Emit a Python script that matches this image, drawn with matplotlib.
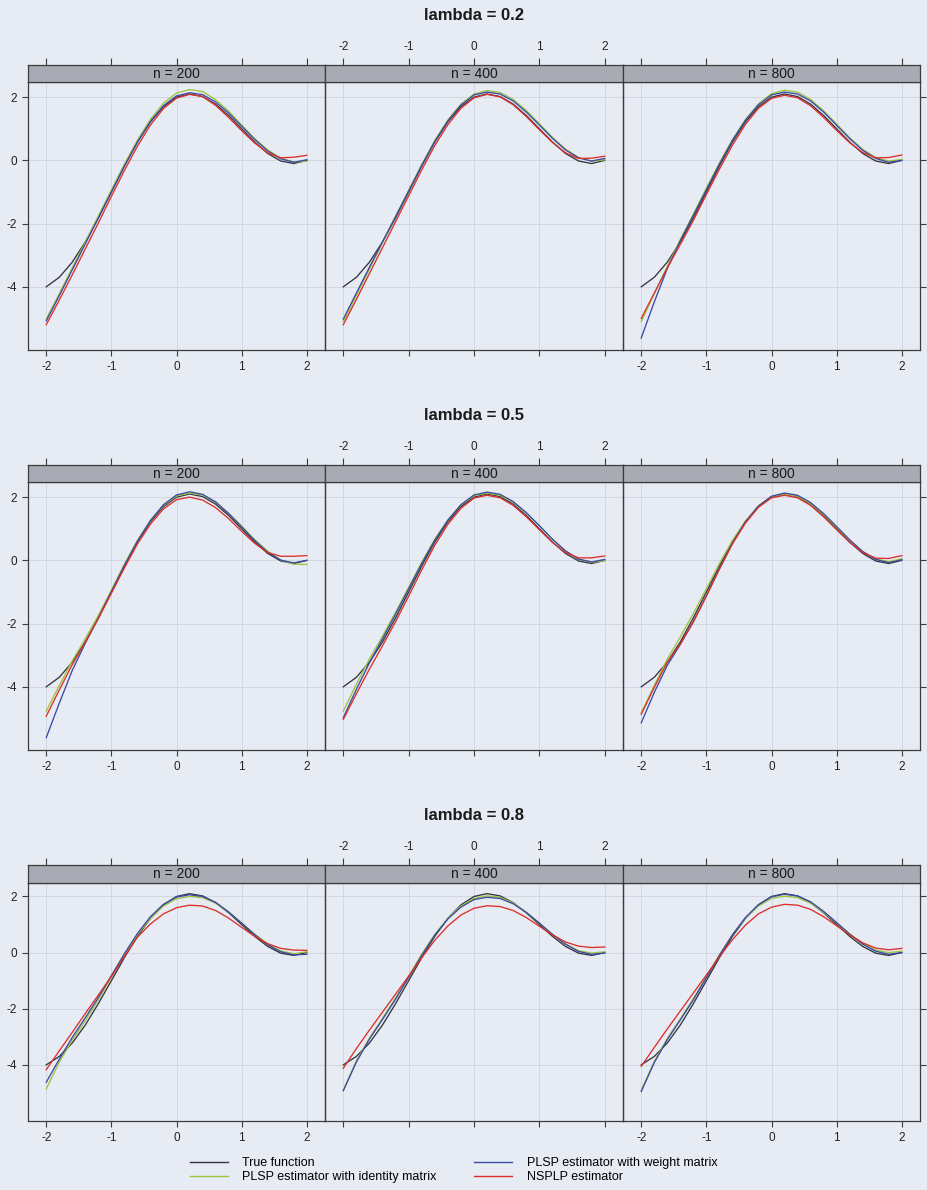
import matplotlib
matplotlib.use("Agg")
import matplotlib.pyplot as plt
from matplotlib.lines import Line2D

plt.rcParams['font.family'] = ['Liberation Sans', 'DejaVu Sans']
plt.rcParams['axes.unicode_minus'] = False

x_grid = [-2.0, -1.8, -1.6, -1.4, -1.2, -1.0, -0.8, -0.6, -0.4, -0.2, 0.0,
          0.2, 0.4, 0.6, 0.8, 1.0, 1.2, 1.4, 1.6, 1.8, 2.0]

true_curve = [-4.00, -3.70, -3.22, -2.58, -1.82, -1.00, -0.18, 0.58, 1.22, 1.70, 2.00,
              2.10, 2.02, 1.78, 1.42, 1.00, 0.58, 0.22, -0.02, -0.10, 0.00]

# lambda = 0.2
ident_02_200 = [-5.02, -4.22, -3.40, -2.58, -1.76, -0.94, -0.12, 0.64, 1.30, 1.81, 2.13,
                2.24, 2.18, 1.92, 1.56, 1.12, 0.69, 0.33, 0.07, -0.05, -0.03]
weight_02_200 = [-5.08, -4.28, -3.46, -2.64, -1.82, -1.00, -0.18, 0.58, 1.23, 1.73, 2.04,
                 2.14, 2.08, 1.85, 1.50, 1.08, 0.66, 0.30, 0.05, -0.06, 0.02]
nsplp_02_200 = [-5.20, -4.42, -3.62, -2.80, -1.98, -1.14, -0.32, 0.45, 1.12, 1.64, 1.97,
                2.09, 2.02, 1.74, 1.36, 0.94, 0.55, 0.24, 0.08, 0.10, 0.16]

ident_02_400 = [-5.10, -4.28, -3.44, -2.60, -1.77, -0.95, -0.13, 0.63, 1.28, 1.78, 2.10,
                2.21, 2.15, 1.93, 1.58, 1.16, 0.73, 0.36, 0.09, -0.03, 0.02]
weight_02_400 = [-5.02, -4.20, -3.38, -2.58, -1.78, -0.97, -0.16, 0.60, 1.25, 1.75, 2.07,
                 2.16, 2.10, 1.88, 1.53, 1.12, 0.70, 0.33, 0.08, -0.02, 0.06]
nsplp_02_400 = [-5.20, -4.40, -3.58, -2.76, -1.94, -1.12, -0.30, 0.47, 1.13, 1.65, 1.98,
                2.09, 2.01, 1.76, 1.39, 0.97, 0.57, 0.24, 0.06, 0.07, 0.13]

ident_02_800 = [-5.10, -4.22, -3.36, -2.50, -1.70, -0.88, -0.08, 0.66, 1.29, 1.79, 2.11,
                2.22, 2.16, 1.93, 1.57, 1.15, 0.72, 0.35, 0.09, -0.02, 0.03]
weight_02_800 = [-5.62, -4.48, -3.42, -2.54, -1.74, -0.93, -0.12, 0.63, 1.27, 1.76, 2.07,
                 2.16, 2.10, 1.88, 1.53, 1.11, 0.69, 0.32, 0.06, -0.06, 0.00]
nsplp_02_800 = [-5.00, -4.20, -3.40, -2.66, -1.90, -1.08, -0.28, 0.48, 1.14, 1.65, 1.96,
                2.06, 1.98, 1.73, 1.36, 0.95, 0.56, 0.25, 0.08, 0.09, 0.17]

# lambda = 0.5
ident_05_200 = [-4.77, -3.96, -3.18, -2.48, -1.74, -0.94, -0.12, 0.63, 1.26, 1.74, 2.04,
                2.13, 2.07, 1.85, 1.50, 1.09, 0.66, 0.29, 0.01, -0.12, -0.13]
weight_05_200 = [-5.61, -4.52, -3.48, -2.62, -1.82, -0.99, -0.16, 0.61, 1.26, 1.76, 2.07,
                 2.17, 2.09, 1.85, 1.48, 1.06, 0.63, 0.26, 0.01, -0.08, 0.00]
nsplp_05_200 = [-4.93, -4.10, -3.30, -2.58, -1.84, -1.04, -0.24, 0.52, 1.15, 1.63, 1.92,
                2.00, 1.91, 1.67, 1.32, 0.92, 0.54, 0.25, 0.13, 0.13, 0.15]

ident_05_400 = [-4.77, -3.92, -3.12, -2.40, -1.64, -0.85, -0.06, 0.67, 1.28, 1.76, 2.05,
                2.13, 2.06, 1.84, 1.50, 1.09, 0.67, 0.30, 0.04, -0.06, -0.01]
weight_05_400 = [-4.98, -4.08, -3.24, -2.48, -1.70, -0.90, -0.10, 0.64, 1.27, 1.76, 2.07,
                 2.16, 2.09, 1.86, 1.51, 1.10, 0.67, 0.30, 0.04, -0.05, 0.03]
nsplp_05_400 = [-5.03, -4.22, -3.44, -2.70, -1.94, -1.13, -0.30, 0.48, 1.14, 1.65, 1.97,
                2.06, 1.98, 1.74, 1.38, 0.97, 0.57, 0.25, 0.08, 0.08, 0.14]

ident_05_800 = [-4.82, -3.96, -3.12, -2.42, -1.68, -0.90, -0.10, 0.63, 1.25, 1.73, 2.02,
                2.10, 2.03, 1.80, 1.45, 1.04, 0.63, 0.28, 0.05, -0.04, 0.05]
weight_05_800 = [-5.14, -4.18, -3.32, -2.66, -1.94, -1.12, -0.26, 0.55, 1.22, 1.72, 2.03,
                 2.13, 2.06, 1.83, 1.48, 1.07, 0.65, 0.28, 0.03, -0.07, 0.02]
nsplp_05_800 = [-4.87, -4.02, -3.22, -2.64, -1.95, -1.13, -0.28, 0.52, 1.18, 1.68, 1.98,
                2.06, 1.98, 1.74, 1.38, 0.97, 0.57, 0.25, 0.07, 0.06, 0.15]

# lambda = 0.8
ident_08_200 = [-4.86, -3.90, -3.12, -2.42, -1.68, -0.88, -0.08, 0.64, 1.22, 1.66, 1.92,
                2.00, 1.96, 1.76, 1.44, 1.06, 0.66, 0.31, 0.06, -0.04, 0.03]
weight_08_200 = [-4.62, -3.80, -3.02, -2.32, -1.60, -0.82, -0.04, 0.68, 1.28, 1.72, 1.98,
                 2.06, 2.00, 1.79, 1.45, 1.05, 0.64, 0.28, 0.03, -0.08, -0.06]
nsplp_08_200 = [-4.17, -3.50, -2.84, -2.17, -1.51, -0.85, -0.14, 0.55, 1.02, 1.38, 1.60,
                1.69, 1.66, 1.50, 1.23, 0.90, 0.58, 0.32, 0.15, 0.09, 0.08]

ident_08_400 = [-4.90, -3.86, -3.04, -2.34, -1.62, -0.84, -0.06, 0.65, 1.23, 1.66, 1.93,
                2.02, 1.97, 1.77, 1.44, 1.05, 0.65, 0.31, 0.07, -0.02, 0.03]
weight_08_400 = [-4.92, -3.90, -3.08, -2.38, -1.66, -0.88, -0.10, 0.62, 1.20, 1.62, 1.89,
                 1.97, 1.93, 1.74, 1.43, 1.05, 0.65, 0.30, 0.04, -0.06, -0.02]
nsplp_08_400 = [-4.12, -3.42, -2.76, -2.12, -1.48, -0.84, -0.18, 0.44, 0.95, 1.34, 1.58,
                1.67, 1.64, 1.50, 1.25, 0.94, 0.63, 0.38, 0.23, 0.18, 0.20]

ident_08_800 = [-4.90, -3.88, -3.06, -2.36, -1.64, -0.86, -0.08, 0.64, 1.23, 1.66, 1.93,
                2.01, 1.96, 1.76, 1.44, 1.06, 0.67, 0.33, 0.09, 0.00, 0.05]
weight_08_800 = [-4.95, -3.92, -3.10, -2.40, -1.68, -0.89, -0.10, 0.63, 1.25, 1.71, 1.99,
                 2.08, 2.02, 1.81, 1.47, 1.07, 0.66, 0.30, 0.05, -0.06, 0.00]
nsplp_08_800 = [-4.05, -3.38, -2.72, -2.08, -1.44, -0.80, -0.15, 0.46, 0.98, 1.38, 1.62,
                1.72, 1.69, 1.54, 1.28, 0.96, 0.63, 0.35, 0.16, 0.10, 0.15]

lambdas = ['0.2', '0.5', '0.8']
sample_sizes = [200, 400, 800]
series_names = ['True function', 'PLSP estimator with identity matrix',
                'PLSP estimator with weight matrix', 'NSPLP estimator']
x_ticks = [-2, -1, 0, 1, 2]
y_ticks = [-4, -2, 0, 2]

estimates = {
    ('0.2', 200): (ident_02_200, weight_02_200, nsplp_02_200),
    ('0.2', 400): (ident_02_400, weight_02_400, nsplp_02_400),
    ('0.2', 800): (ident_02_800, weight_02_800, nsplp_02_800),
    ('0.5', 200): (ident_05_200, weight_05_200, nsplp_05_200),
    ('0.5', 400): (ident_05_400, weight_05_400, nsplp_05_400),
    ('0.5', 800): (ident_05_800, weight_05_800, nsplp_05_800),
    ('0.8', 200): (ident_08_200, weight_08_200, nsplp_08_200),
    ('0.8', 400): (ident_08_400, weight_08_400, nsplp_08_400),
    ('0.8', 800): (ident_08_800, weight_08_800, nsplp_08_800),
}

colors = ['#35353f', '#9cc43c', '#3a4aa6', '#dd2f2a']
BG = '#e7ebf3'
STRIP = '#a9abb4'
EDGE = '#3c3c3c'

W, H = 927, 1190
fig = plt.figure(figsize=(W / 100, H / 100), dpi=100, facecolor=BG)


def box(x0, y0, x1, y1):
    # pixel box (top-left origin) -> figure fraction rect
    return [x0 / W, 1 - y1 / H, (x1 - x0) / W, (y1 - y0) / H]


# title y, strip top, strip bottom / panel top, panel bottom
blocks = [(15, 65, 82, 350), (415, 465, 482, 750), (815, 865, 883, 1121)]
columns = [(28, 325), (325, 623), (623, 920)]

for lam, (ty, st, pt, pb) in zip(lambdas, blocks):
    fig.text(474 / W, 1 - ty / H, 'lambda = %s' % lam, ha='center', va='center',
             fontsize=12, fontweight='bold', color='#1a1a1a')
    for j, (n, (cx0, cx1)) in enumerate(zip(sample_sizes, columns)):
        ax = fig.add_axes(box(cx0, pt, cx1, pb))
        ax.set_facecolor('none')
        ax.set_xlim(-2.28, 2.28)
        ax.set_ylim(-6.0, 2.48)
        ax.set_xticks(x_ticks)
        ax.set_yticks(y_ticks)
        ax.grid(True, color='#cfd4de', linewidth=0.6)
        ax.set_axisbelow(True)

        ident, weight, nsplp = estimates[(lam, n)]
        for vals, c in zip([true_curve, ident, weight, nsplp], colors):
            ax.plot(x_grid, vals, color=c, linewidth=0.95)

        for s in ax.spines.values():
            s.set_color(EDGE)
            s.set_linewidth(0.9)
        ax.tick_params(axis='both', direction='out', length=4.2, width=0.8,
                       color=EDGE, labelsize=8.5, labelcolor='#222222', pad=3.5)
        ax.tick_params(axis='x', top=False, bottom=True, labeltop=False,
                       labelbottom=(j != 1))
        ax.tick_params(axis='y', left=(j == 0), labelleft=(j == 0),
                       right=(j == 2), labelright=False)

        sax = fig.add_axes(box(cx0, st, cx1, pt))
        sax.set_facecolor(STRIP)
        sax.set_xlim(-2.28, 2.28)
        sax.set_ylim(0, 1)
        sax.set_xticks(x_ticks)
        sax.set_yticks([])
        for s in sax.spines.values():
            s.set_color(EDGE)
            s.set_linewidth(0.9)
        sax.tick_params(axis='x', direction='out', length=5, width=0.8, color=EDGE,
                        top=True, bottom=False, labeltop=(j == 1), labelbottom=False,
                        labelsize=8.5, labelcolor='#222222', pad=3.5)
        sax.text(0.5, 0.5, 'n = %d' % n, transform=sax.transAxes, ha='center',
                 va='center', fontsize=10, color='#1a1a1a')

handles = [Line2D([], [], color=c, linewidth=1.0) for c in colors]
fig.legend(handles, series_names, loc='upper left',
           bbox_to_anchor=(190 / W, 1 - 1157 / H), ncol=2, frameon=False,
           fontsize=9, handlelength=3.0, handletextpad=1.2, columnspacing=3.0,
           labelspacing=0.15, borderpad=0, borderaxespad=0)

fig.savefig('out.png', dpi=100, facecolor=BG)
